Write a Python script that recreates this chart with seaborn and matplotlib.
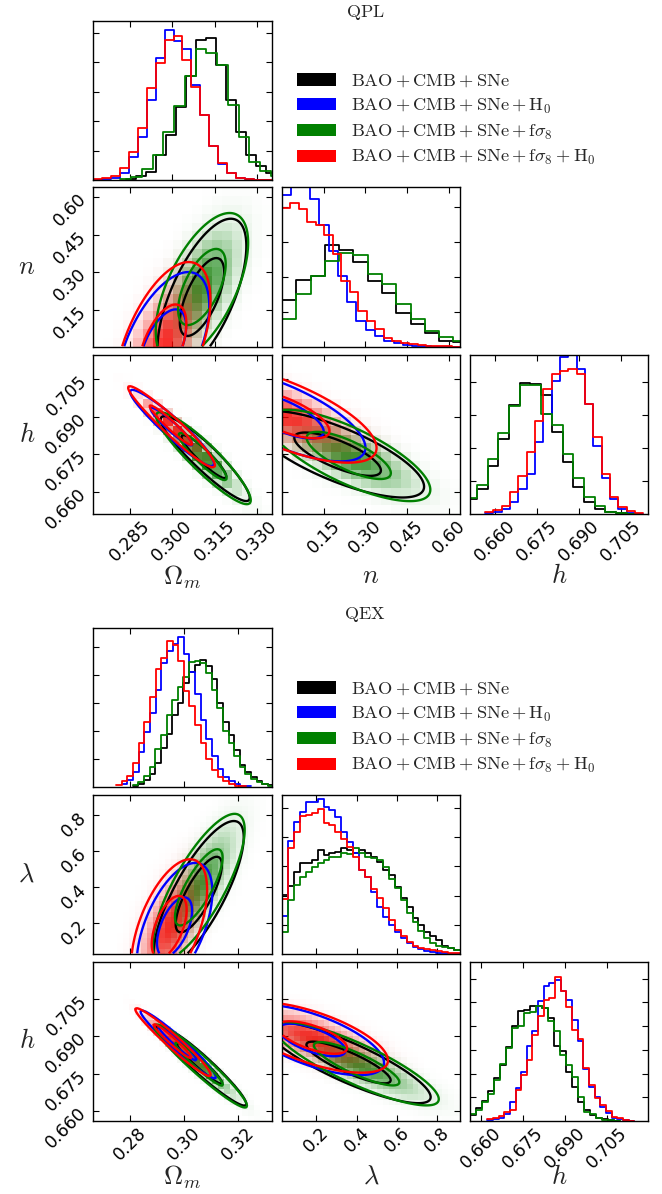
import numpy as np
import pandas as pd
import matplotlib
matplotlib.use("Agg")
import matplotlib.pyplot as plt
import seaborn as sns
from matplotlib.colors import LinearSegmentedColormap, PowerNorm, to_rgba
from matplotlib.patches import Patch

# ======================= DATA =======================
dataset_labels = [r'$\mathrm{BAO+CMB+SNe}$',
                  r'$\mathrm{BAO+CMB+SNe+H_0}$',
                  r'$\mathrm{BAO+CMB+SNe+f\sigma_8}$',
                  r'$\mathrm{BAO+CMB+SNe+f\sigma_8+H_0}$']
dataset_colors = ['black', 'blue', 'green', 'red']
shaded_datasets = [2, 3]

# ---------- QPL ----------
qpl_title = r'$\mathrm{QPL}$'
qpl_param_labels = [r'$\Omega_m$', r'$n$', r'$h$']
qpl_limits = [(0.2721, 0.3352), (0.0, 0.64), (0.651, 0.7148)]
qpl_lower_bounds = [None, 0.0, None]
qpl_ticks = [[0.285, 0.300, 0.315, 0.330], [0.15, 0.30, 0.45, 0.60], [0.660, 0.675, 0.690, 0.705]]
qpl_ticklabels = [['0.285', '0.300', '0.315', '0.330'], ['0.15', '0.30', '0.45', '0.60'],
                  ['0.660', '0.675', '0.690', '0.705']]
qpl_hist_ymax = [5.40, 4.58, 4.80]

# 1D histograms (order: black, blue, green, red): (lo, hi) and bin heights
qpl_om_ranges = [(0.28383, 0.33668), (0.2721, 0.3352), (0.28171, 0.33856), (0.2721, 0.3352)]
qpl_om_heights = [
    [0.03, 0.14, 0.28, 0.85, 1.53, 2.49, 3.53, 4.75, 4.82, 3.90, 2.71, 1.64, 0.85, 0.47, 0.23],
    [0.01, 0.03, 0.06, 0.23, 0.77, 1.45, 2.71, 4.16, 5.11, 4.72, 4.44, 3.24, 2.20, 1.15, 0.56, 0.23, 0.06, 0.03, 0.01, 0.0],
    [0.03, 0.11, 0.36, 0.85, 1.64, 2.51, 3.53, 4.46, 4.33, 3.90, 2.54, 1.47, 0.62, 0.32, 0.15],
    [0.02, 0.08, 0.14, 0.42, 0.96, 1.77, 3.11, 3.99, 4.77, 4.90, 4.07, 3.16, 2.22, 1.17, 0.59, 0.25, 0.06, 0.02, 0.01, 0.0],
]
qpl_n_ranges = [(0.0, 0.6675), (0.0, 0.636), (0.0, 0.6675), (0.0, 0.64)]
qpl_n_heights = [
    [1.34, 1.92, 2.04, 2.92, 2.78, 2.43, 1.90, 1.56, 0.96, 0.67, 0.41, 0.17, 0.14],
    [4.36, 5.2, 5.0, 4.23, 3.50, 2.76, 2.02, 1.28, 0.75, 0.49, 0.32, 0.17, 0.11, 0.05, 0.03, 0.02, 0.01, 0.01, 0.0],
    [0.81, 1.51, 2.04, 2.47, 2.69, 2.64, 2.09, 1.80, 1.23, 0.80, 0.46, 0.30, 0.17],
    [3.98, 4.13, 3.94, 3.58, 3.50, 3.21, 2.67, 1.90, 1.58, 1.04, 0.75, 0.51, 0.27, 0.17, 0.12, 0.09, 0.06, 0.04, 0.03, 0.02, 0.01],
]
qpl_h_ranges = [(0.64962, 0.71109), (0.65642, 0.71310), (0.64962, 0.71109), (0.65642, 0.71310)]
qpl_h_heights = [
    [0.45, 0.76, 1.44, 2.25, 3.29, 3.96, 3.91, 3.58, 2.49, 1.56, 0.83, 0.37, 0.15, 0.07, 0.02, 0.0],
    [0.02, 0.05, 0.15, 0.35, 0.75, 1.20, 2.17, 3.02, 4.03, 4.73, 4.95, 4.38, 3.32, 2.06, 1.08, 0.45, 0.15, 0.03, 0.01],
    [0.48, 0.88, 1.66, 2.45, 3.27, 3.88, 3.88, 3.02, 2.69, 1.81, 1.08, 0.50, 0.23, 0.07, 0.02, 0.0],
    [0.05, 0.13, 0.23, 0.65, 1.14, 1.86, 2.82, 3.78, 4.23, 4.33, 4.38, 4.23, 3.32, 2.32, 1.21, 0.50, 0.20, 0.10, 0.03],
]
# 2D posterior summaries (Omega_m, n, h): means, widths, correlations (01, 02, 12)
qpl_means = [[0.3105, 0.20, 0.6750], [0.2967, 0.0, 0.6905], [0.3105, 0.24, 0.6745], [0.2965, 0.0, 0.6912]]
qpl_sigmas = [[0.0085, 0.17, 0.0095], [0.0082, 0.15, 0.0092], [0.0088, 0.16, 0.0100], [0.0085, 0.17, 0.0098]]
qpl_corrs = [[0.65, -0.93, -0.75], [0.55, -0.95, -0.70], [0.60, -0.92, -0.75], [0.55, -0.96, -0.70]]

# ---------- QEX ----------
qex_title = r'$\mathrm{QEX}$'
qex_param_labels = [r'$\Omega_m$', r'$\lambda$', r'$h$']
qex_limits = [(0.2662, 0.3327), (0.0302, 0.9123), (0.6561, 0.7197)]
qex_lower_bounds = [None, 0.0302, None]
qex_ticks = [[0.28, 0.30, 0.32], [0.2, 0.4, 0.6, 0.8], [0.660, 0.675, 0.690, 0.705]]
qex_ticklabels = [['0.28', '0.30', '0.32'], ['0.2', '0.4', '0.6', '0.8'],
                  ['0.660', '0.675', '0.690', '0.705']]
qex_hist_ymax = [5.66, 5.44, 6.70]

qex_om_ranges = [(0.28098, 0.33329), (0.27692, 0.32505), (0.28098, 0.33329), (0.27483, 0.32296)]
qex_om_heights = [
    [0.05, 0.12, 0.25, 0.45, 0.85, 1.40, 1.90, 2.55, 3.00, 3.70, 4.10, 4.35, 4.53, 4.30, 3.85, 3.00, 2.30, 1.85, 1.30, 0.80, 0.55, 0.35, 0.22, 0.12, 0.06],
    [0.10, 0.25, 0.55, 1.25, 1.95, 2.65, 3.45, 4.40, 4.85, 5.10, 5.33, 4.75, 4.10, 3.30, 2.40, 1.70, 1.10, 0.65, 0.35, 0.20, 0.10, 0.04, 0.02],
    [0.08, 0.18, 0.40, 0.70, 1.35, 1.85, 2.55, 3.10, 3.55, 3.90, 4.45, 4.50, 4.40, 4.05, 3.45, 2.80, 2.00, 1.55, 1.10, 0.70, 0.45, 0.30, 0.18, 0.10, 0.05],
    [0.08, 0.20, 0.40, 0.85, 1.55, 2.30, 3.20, 4.20, 4.60, 5.20, 5.05, 4.50, 3.40, 2.90, 2.20, 1.55, 1.00, 0.60, 0.35, 0.20, 0.10, 0.05, 0.02],
]
qex_lam_ranges = [(0.0302, 0.9123)] * 4
qex_lam_heights = [
    [2.02, 2.34, 2.81, 3.10, 3.10, 3.21, 3.56, 3.38, 3.44, 3.50, 3.61, 3.56, 3.44, 3.56, 3.44, 3.33, 3.16, 2.87, 2.70, 2.30, 1.93, 1.62, 1.22, 0.99, 0.74, 0.63, 0.48, 0.28, 0.22, 0.15],
    [1.31, 3.86, 4.52, 4.87, 5.19, 5.21, 5.30, 5.04, 4.92, 4.70, 4.18, 3.84, 3.44, 2.87, 2.64, 2.13, 1.62, 1.28, 0.99, 0.76, 0.54, 0.36, 0.25, 0.17, 0.10, 0.06, 0.04, 0.02, 0.01, 0.0],
    [0.76, 1.85, 2.36, 2.64, 2.81, 2.99, 3.10, 3.21, 3.33, 3.33, 3.44, 3.41, 3.61, 3.44, 3.33, 3.27, 3.21, 2.99, 2.56, 2.25, 1.85, 1.39, 1.11, 0.79, 0.54, 0.36, 0.28, 0.25, 0.19, 0.14],
    [1.88, 3.61, 4.16, 4.73, 4.75, 4.81, 4.96, 4.47, 4.41, 4.18, 3.95, 3.67, 3.33, 2.87, 2.64, 2.22, 1.90, 1.56, 1.16, 0.82, 0.63, 0.42, 0.28, 0.22, 0.17, 0.13, 0.10, 0.06, 0.04, 0.02],
]
qex_h_ranges = [(0.65606, 0.70976), (0.66227, 0.71477), (0.65606, 0.70976), (0.66227, 0.71477)]
qex_h_heights = [
    [0.25, 0.56, 0.85, 1.27, 1.83, 2.37, 3.10, 3.99, 4.62, 4.69, 4.86, 4.86, 4.76, 4.34, 3.14, 2.93, 2.08, 1.45, 0.82, 0.46, 0.25, 0.14, 0.07, 0.04, 0.02],
    [0.04, 0.08, 0.14, 0.28, 0.79, 1.41, 2.06, 3.18, 3.80, 5.07, 5.68, 5.82, 5.96, 5.46, 5.11, 4.27, 3.38, 2.20, 1.45, 1.03, 0.61, 0.32, 0.14, 0.07, 0.03, 0.01],
    [0.28, 0.46, 0.79, 1.13, 1.73, 2.39, 3.07, 3.92, 3.99, 4.55, 4.59, 4.83, 4.76, 4.23, 3.80, 2.79, 2.37, 1.87, 1.03, 0.37, 0.28, 0.11, 0.06, 0.03, 0.01],
    [0.07, 0.11, 0.23, 0.37, 0.46, 1.31, 1.92, 2.58, 3.61, 4.41, 5.11, 5.18, 6.07, 5.46, 4.79, 3.85, 3.46, 2.25, 1.52, 0.99, 0.68, 0.42, 0.18, 0.11, 0.05, 0.02],
]
# (Omega_m, lambda, h)
qex_means = [[0.3055, 0.36, 0.6795], [0.2965, 0.18, 0.6885], [0.3055, 0.40, 0.6790], [0.2945, 0.18, 0.6895]]
qex_sigmas = [[0.0090, 0.22, 0.0088], [0.0075, 0.19, 0.0075], [0.0092, 0.22, 0.0090], [0.0075, 0.20, 0.0075]]
qex_corrs = [[0.78, -0.96, -0.85], [0.55, -0.97, -0.65], [0.78, -0.96, -0.85], [0.55, -0.97, -0.65]]

contour_levels = [1 - np.exp(-2.0), 1 - np.exp(-0.5)]

# ======================= STYLE / LAYOUT =======================
sns.set_theme(style='ticks')
plt.rcParams['font.family'] = ['DejaVu Sans']
plt.rcParams['mathtext.fontset'] = 'cm'
plt.rcParams['axes.edgecolor'] = 'black'
plt.rcParams['axes.linewidth'] = 1.0

FIG_W, FIG_H = 662, 1194
col_spans = [(93, 272), (282, 460), (470, 648)]
qpl_rows = [(21, 180), (187, 347), (355, 514)]
qex_rows = [(628, 787), (795, 954), (962, 1121)]

fig = plt.figure(figsize=(FIG_W / 100, FIG_H / 100), dpi=100)


def add_ax(xs, ys):
    x0, x1 = xs
    y0, y1 = ys
    return fig.add_axes([x0 / FIG_W, 1 - y1 / FIG_H, (x1 - x0) / FIG_W, (y1 - y0) / FIG_H])


def pair_density(model, d, j, i, M):
    k = 3 - i - j
    mean = np.asarray(model['means'][d], float)
    sig = np.asarray(model['sigmas'][d], float)
    c = model['corrs'][d]
    R = np.array([[1, c[0], c[1]], [c[0], 1, c[2]], [c[1], c[2], 1]], float)
    Ri = np.linalg.inv(R)
    ex = np.linspace(*model['limits'][j], M + 1)
    ey = np.linspace(*model['limits'][i], M + 1)
    cx = 0.5 * (ex[1:] + ex[:-1])
    cy = 0.5 * (ey[1:] + ey[:-1])
    lo_k = mean[k] - 5 * sig[k]
    lb = model['lower'][k]
    if lb is not None:
        lo_k = max(lo_k, lb)
    ck = np.linspace(lo_k, mean[k] + 5 * sig[k], 80)
    z = [None] * 3
    z[j] = ((cx - mean[j]) / sig[j])[:, None, None]
    z[i] = ((cy - mean[i]) / sig[i])[None, :, None]
    z[k] = ((ck - mean[k]) / sig[k])[None, None, :]
    q = 0
    for a in range(3):
        for b in range(3):
            q = q + Ri[a, b] * z[a] * z[b]
    P = np.exp(-0.5 * q).sum(axis=2)
    return ex, ey, cx, cy, P


def thresholds(P, levels):
    flat = np.sort(P.ravel())[::-1]
    cs = np.cumsum(flat)
    cs /= cs[-1]
    return [flat[min(np.searchsorted(cs, L), len(flat) - 1)] for L in levels]


def style_ticks(ax):
    ax.tick_params(axis='both', which='both', direction='in', top=True, right=True,
                   length=4, width=0.8, labelsize=12.5, pad=2, colors='black')


def draw_corner(model, rows):
    coarse = model['coarse']
    fac = model['fine_factor']
    M = coarse * fac
    for i in range(3):
        for j in range(i + 1):
            ax = add_ax(col_spans[j], rows[i])
            if i == j:
                for d in range(4):
                    lo, hi = model['ranges'][i][d]
                    hts = np.asarray(model['heights'][i][d], float)
                    edges = np.linspace(lo, hi, len(hts) + 1)
                    cents = 0.5 * (edges[1:] + edges[:-1])
                    df = pd.DataFrame({'x': cents, 'w': hts})
                    sns.histplot(data=df, x='x', weights='w', bins=edges.tolist(), element='step',
                                 fill=False, color=dataset_colors[d], linewidth=1.3, ax=ax)
                ax.set_ylim(0, model['ymax'][i])
                ax.set_yticks(np.arange(1, int(model['ymax'][i]) + 1))
                ax.set_yticklabels([])
                ax.set_ylabel('')
            else:
                dens = [pair_density(model, d, j, i, M) for d in range(4)]
                for d in shaded_datasets:
                    ex, ey, cx, cy, P = dens[d]
                    C = P.reshape(coarse, fac, coarse, fac).sum(axis=(1, 3))
                    cmap = LinearSegmentedColormap.from_list(
                        'c%d' % d, [to_rgba(dataset_colors[d], 0.0), to_rgba(dataset_colors[d], 0.8)])
                    ax.pcolormesh(ex[::fac], ey[::fac], C.T, cmap=cmap,
                                  norm=PowerNorm(1.4, vmin=0, vmax=C.max()),
                                  shading='flat', zorder=1, rasterized=True)
                for d in range(4):
                    ex, ey, cx, cy, P = dens[d]
                    lv = thresholds(P, contour_levels)
                    ax.contour(cx, cy, P.T, levels=lv, colors=dataset_colors[d],
                               linewidths=1.7, zorder=3)
                ax.set_ylim(model['limits'][i])
                ax.set_yticks(model['ticks'][i])
                if j == 0:
                    ax.set_yticklabels(model['ticklabels'][i], rotation=45)
                    ax.set_ylabel(model['labels'][i], fontsize=19, rotation=0, ha='center', va='center')
                    ax.yaxis.set_label_coords(-0.37, 0.5)
                else:
                    ax.set_yticklabels([])
                    ax.set_ylabel('')
            ax.set_xlim(model['limits'][j])
            ax.set_xticks(model['ticks'][j])
            if i == 2:
                ax.set_xticklabels(model['ticklabels'][j], rotation=45)
                ax.set_xlabel(model['labels'][j], fontsize=19)
                ax.xaxis.set_label_coords(0.5, model['xlabel_off'])
            else:
                ax.set_xticklabels([])
                ax.set_xlabel('')
            style_ticks(ax)
            for s in ax.spines.values():
                s.set_color('black')
                s.set_linewidth(1.0)


qpl = dict(labels=qpl_param_labels, limits=qpl_limits, lower=qpl_lower_bounds, ticks=qpl_ticks,
           ticklabels=qpl_ticklabels, ymax=qpl_hist_ymax,
           ranges=[qpl_om_ranges, qpl_n_ranges, qpl_h_ranges],
           heights=[qpl_om_heights, qpl_n_heights, qpl_h_heights],
           means=qpl_means, sigmas=qpl_sigmas, corrs=qpl_corrs, coarse=18, fine_factor=6,
           xlabel_off=-0.31)
qex = dict(labels=qex_param_labels, limits=qex_limits, lower=qex_lower_bounds, ticks=qex_ticks,
           ticklabels=qex_ticklabels, ymax=qex_hist_ymax,
           ranges=[qex_om_ranges, qex_lam_ranges, qex_h_ranges],
           heights=[qex_om_heights, qex_lam_heights, qex_h_heights],
           means=qex_means, sigmas=qex_sigmas, corrs=qex_corrs, coarse=30, fine_factor=4,
           xlabel_off=-0.27)

draw_corner(qpl, qpl_rows)
draw_corner(qex, qex_rows)

handles = [Patch(facecolor=c, edgecolor='none') for c in dataset_colors]
for title, ty, ly in [(qpl_title, 12, 72), (qex_title, 615, 680)]:
    fig.text(365 / FIG_W, 1 - ty / FIG_H, title, ha='center', va='center', fontsize=13)
    fig.legend(handles, dataset_labels, loc='upper left',
               bbox_to_anchor=(297 / FIG_W, 1 - ly / FIG_H), frameon=False, fontsize=13.2,
               handlelength=2.13, handleheight=0.65, labelspacing=0.36, handletextpad=0.82,
               borderpad=0, borderaxespad=0)

fig.savefig('out.png', dpi=100)
